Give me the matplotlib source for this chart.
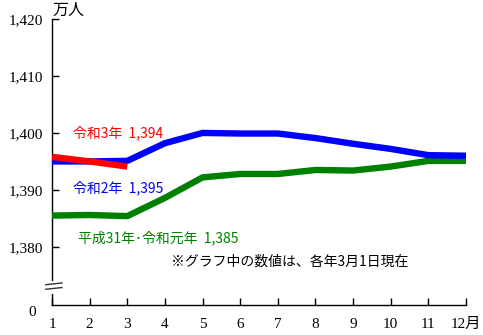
import matplotlib
matplotlib.use("Agg")
import matplotlib.pyplot as plt
from matplotlib.patches import Rectangle

# Monthly population (10,000 persons)
months = [1, 2, 3, 4, 5, 6, 7, 8, 9, 10, 11, 12]
r2_values = [1395.0, 1395.0, 1395.1, 1398.2, 1400.0, 1399.9, 1399.9, 1399.1, 1398.1, 1397.2, 1396.1, 1396.0]
r3_months = [1, 2, 3]
r3_values = [1395.8, 1395.0, 1394.1]
h31_values = [1385.5, 1385.6, 1385.4, 1388.6, 1392.2, 1392.8, 1392.8, 1393.5, 1393.4, 1394.1, 1395.1, 1395.1]

series_labels = ["令和3年  1,394", "令和2年  1,395", "平成31年･令和元年  1,385"]
y_ticks = [1380, 1390, 1400, 1410, 1420]
y_tick_labels = ["1,380", "1,390", "1,400", "1,410", "1,420"]
x_tick_labels = [str(m) for m in months[:-1]] + ["12月"]
unit_label = "万人"
note = "※グラフ中の数値は、各年3月1日現在"

RED = "#ff0000"
BLUE = "#0000ff"
GREEN = "#008000"
JP = ["Noto Sans CJK JP", "DejaVu Sans"]
NUM = ["Liberation Serif", "Noto Sans CJK JP"]

W, H = 483, 335
fig = plt.figure(figsize=(W / 100, H / 100), dpi=100)
ax = fig.add_axes([52 / W, 30 / H, 414 / W, 286 / H])

y_bottom = 1369.8
ax.set_xlim(1, 12)
ax.set_ylim(y_bottom, 1420)

lw = 4.6
ax.plot(months, h31_values, color=GREEN, lw=lw, solid_capstyle="butt", zorder=3)
ax.plot(months, r2_values, color=BLUE, lw=lw, solid_capstyle="butt", zorder=4)
ax.plot(r3_months, r3_values, color=RED, lw=lw, solid_capstyle="butt", zorder=5)

for s in ("top", "right"):
    ax.spines[s].set_visible(False)
for s in ("left", "bottom"):
    ax.spines[s].set_linewidth(1.0)
    ax.spines[s].set_color("black")

ax.set_yticks(y_ticks)
ax.set_yticklabels(y_tick_labels, family=NUM, fontsize=11)
ax.set_xticks(months)
ax.set_xticklabels(x_tick_labels, family=NUM, fontsize=11)
ax.tick_params(axis="y", direction="in", length=5, width=1, pad=6.5)
ax.tick_params(axis="x", direction="in", length=5, width=1, pad=9.5)

# zero label below the axis break
ax.text(-0.039, -0.025, "0", transform=ax.transAxes, ha="right", va="center",
        family=NUM, fontsize=11)

# axis break mark
ax.add_patch(Rectangle((-0.01, 0.04), 0.02, 0.045, transform=ax.transAxes,
                       facecolor="white", edgecolor="none", clip_on=False, zorder=6))
for dy in (0.058, 0.074):
    ax.plot([-0.015, 0.024], [dy - 0.003, dy + 0.003], transform=ax.transAxes,
            color="#333333", lw=1.0, clip_on=False, zorder=7)

# series labels
ax.text(1.55, 1400.0, series_labels[0], color=RED, family=JP, fontsize=10,
        ha="left", va="center")
ax.text(1.55, 1390.4, series_labels[1], color=BLUE, family=JP, fontsize=10,
        ha="left", va="center")
ax.text(1.68, 1381.6, series_labels[2], color=GREEN, family=JP, fontsize=10,
        ha="left", va="center")

ax.text(4.15, 1377.5, note, color="black", family=JP, fontsize=10,
        ha="left", va="center")

fig.text(52 / W, 1 - 10 / H, unit_label, family=JP, fontsize=11.5,
         ha="left", va="center")

fig.savefig("out.png", dpi=100)
